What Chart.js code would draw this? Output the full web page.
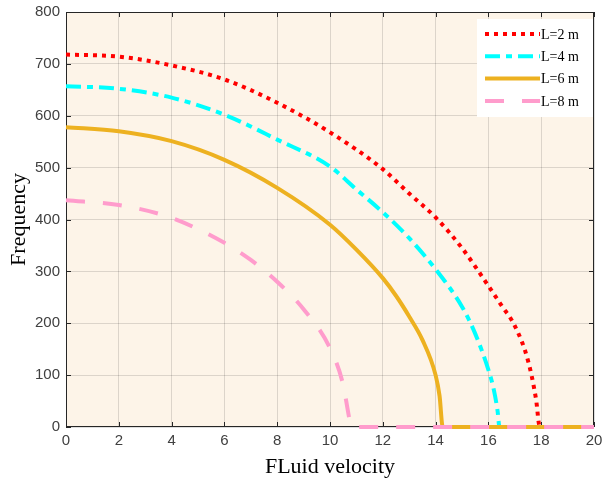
<!DOCTYPE html>
<html>
<head>
<meta charset="utf-8">
<script src="https://cdn.jsdelivr.net/npm/chart.js@4.4.0/dist/chart.umd.min.js"></script>
<style>
  html, body { margin: 0; padding: 0; background: #ffffff; }
  #wrap { width: 602px; height: 485px; }
</style>
</head>
<body>
<div id="wrap"><canvas id="chart" width="602" height="485"></canvas></div>
<script>
// 곡선 데이터
const velL2 = [0, 2, 4, 6, 8, 10, 12, 13, 14, 15, 16, 16.5, 17, 17.5, 17.8, 17.95, 18, 20];
const freqL2 = [718, 714, 697, 670, 625, 568, 497, 450, 404, 345, 272, 234, 195, 128, 55, 0, 0, 0];

const velL4 = [0, 2, 4, 6, 8, 10, 11, 12, 13, 14, 15, 15.5, 16, 16.2, 16.35, 16.42, 20];
const freqL4 = [657, 652, 635, 602, 554, 502, 458, 414, 364, 304, 232, 180, 110, 73, 30, 0, 0];

const velL6 = [0, 2, 4, 6, 8, 10, 11, 12, 12.5, 13, 13.5, 14, 14.15, 14.27, 20];
const freqL6 = [578, 570, 551, 515, 461, 390, 342, 287, 253, 213, 168, 100, 60, 0, 0];

const velL8 = [0, 2, 4, 6, 7, 8, 9, 10, 10.5, 10.7, 10.8, 20];
const freqL8 = [437, 428, 403, 355, 322, 280, 227, 152, 81, 25, 0, 0];

const seriesLabels = ['L=2 m', 'L=4 m', 'L=6 m', 'L=8 m'];
const xTicks = [0, 2, 4, 6, 8, 10, 12, 14, 16, 18, 20];
const yTicks = [0, 100, 200, 300, 400, 500, 600, 700, 800];

const toPoints = (xs, ys) => xs.map((x, i) => ({ x: x, y: ys[i] }));

// 플롯 배경
const plotBackground = {
    id: 'plotBackground',
    beforeDraw(chart) {
        const { ctx, chartArea: a } = chart;
        ctx.save();
        ctx.fillStyle = '#fdf4e8';
        ctx.fillRect(a.left, a.top, a.right - a.left, a.bottom - a.top);
        ctx.restore();
    }
};

// 상자 테두리와 안쪽 눈금
const axesBox = {
    id: 'axesBox',
    beforeDatasetsDraw(chart) {
        const { ctx, chartArea: a, scales } = chart;
        ctx.save();
        ctx.strokeStyle = '#262626';
        ctx.lineWidth = 1;
        ctx.strokeRect(a.left + 0.5, a.top + 0.5, a.right - a.left - 1, a.bottom - a.top - 1);
        ctx.beginPath();
        xTicks.forEach(v => {
            const x = Math.round(scales.x.getPixelForValue(v)) + 0.5;
            ctx.moveTo(x, a.bottom); ctx.lineTo(x, a.bottom - 5);
            ctx.moveTo(x, a.top); ctx.lineTo(x, a.top + 5);
        });
        yTicks.forEach(v => {
            const y = Math.round(scales.y.getPixelForValue(v)) + 0.5;
            ctx.moveTo(a.left, y); ctx.lineTo(a.left + 5, y);
            ctx.moveTo(a.right, y); ctx.lineTo(a.right - 5, y);
        });
        ctx.stroke();
        ctx.restore();
    }
};

// 범례 (선 모양 그대로)
const lineLegend = {
    id: 'lineLegend',
    afterDraw(chart) {
        const { ctx } = chart;
        const boxLeft = 477, boxTop = 19, boxW = 116, boxH = 98;
        ctx.save();
        ctx.fillStyle = '#ffffff';
        ctx.fillRect(boxLeft, boxTop, boxW, boxH);
        chart.data.datasets.forEach((ds, i) => {
            const y = 34 + i * 22.3;
            ctx.beginPath();
            ctx.strokeStyle = ds.borderColor;
            ctx.lineWidth = ds.borderWidth;
            ctx.lineCap = 'butt';
            ctx.setLineDash(ds.borderDash || []);
            ctx.moveTo(485, y);
            ctx.lineTo(540, y);
            ctx.stroke();
            ctx.setLineDash([]);
            ctx.fillStyle = '#000000';
            ctx.font = '14px "Liberation Serif", "Times New Roman", serif';
            ctx.textBaseline = 'middle';
            ctx.textAlign = 'left';
            ctx.fillText(ds.label, 541, y + 1);
        });
        ctx.restore();
    }
};

const lineStyle = (label, xs, ys, color, dash, order) => ({
    label: label,
    data: toPoints(xs, ys),
    borderColor: color,
    backgroundColor: color,
    borderWidth: 4,
    borderDash: dash,
    borderCapStyle: 'butt',
    fill: false,
    pointRadius: 0,
    tension: 0.4,
    cubicInterpolationMode: 'monotone',
    clip: 4,
    order: order
});

const tickFont = { family: '"Liberation Sans", Arial, sans-serif', size: 15 };
const titleFont = { family: '"Liberation Serif", "Times New Roman", serif', size: 22 };

new Chart(document.getElementById('chart'), {
    type: 'line',
    data: {
        datasets: [
            lineStyle(seriesLabels[0], velL2, freqL2, '#ff0000', [4, 5], 4),
            lineStyle(seriesLabels[1], velL4, freqL4, '#00ffff', [15, 6, 6, 6], 3),
            lineStyle(seriesLabels[2], velL6, freqL6, '#edb120', [], 2),
            lineStyle(seriesLabels[3], velL8, freqL8, '#ff9ccc', [19, 18], 1)
        ]
    },
    options: {
        responsive: false,
        animation: false,
        layout: { padding: { left: 0, right: 8, top: 12, bottom: 0 } },
        plugins: {
            legend: { display: false },
            tooltip: { enabled: false }
        },
        scales: {
            x: {
                type: 'linear',
                min: 0,
                max: 20,
                afterBuildTicks: axis => { axis.ticks = xTicks.map(v => ({ value: v })); },
                afterFit: axis => {
                    axis.height = 58;
                    // 마지막 라벨이 오른쪽으로 넘어가도 되게
                    axis.paddingLeft = 0;
                    axis.paddingRight = 0;
                },
                grid: { color: 'rgba(0,0,0,0.13)', drawTicks: false },
                border: { display: false },
                ticks: { font: tickFont, color: '#404040', padding: 5, maxRotation: 0 },
                title: { display: true, text: 'FLuid velocity', font: titleFont, color: '#000000', padding: { top: 0, bottom: 5 } }
            },
            y: {
                type: 'linear',
                min: 0,
                max: 800,
                afterBuildTicks: axis => { axis.ticks = yTicks.map(v => ({ value: v })); },
                afterFit: axis => {
                    axis.width = 66;
                    axis.paddingTop = 0;
                    axis.paddingBottom = 0;
                },
                grid: { color: 'rgba(0,0,0,0.13)', drawTicks: false },
                border: { display: false },
                ticks: { font: tickFont, color: '#404040', padding: 6 },
                title: { display: true, text: 'Frequency', font: titleFont, color: '#000000', padding: { top: 6, bottom: 0 } }
            }
        }
    },
    plugins: [plotBackground, axesBox, lineLegend]
});
</script>
</body>
</html>
